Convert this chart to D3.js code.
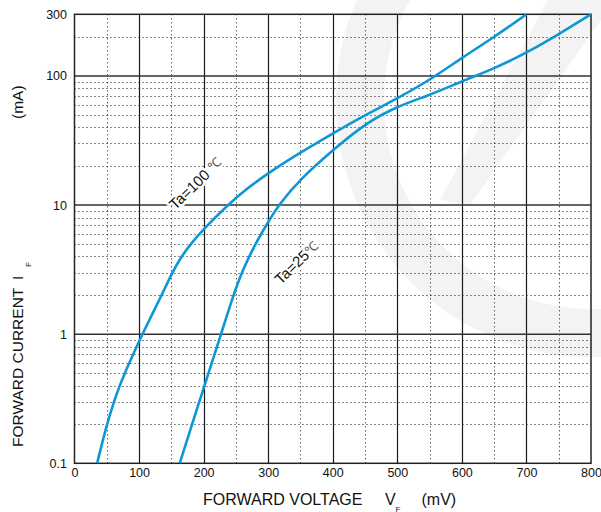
<!DOCTYPE html>
<html><head><meta charset="utf-8">
<script src="https://cdn.jsdelivr.net/npm/d3@7"></script>
<style>
html,body{margin:0;padding:0;background:#fff;}
svg{display:block;font-family:"Liberation Sans",Arial,sans-serif;}
</style></head><body>
<svg id="c" width="601" height="512"></svg>
<script>
// ---- data ----
const xTicks = [0, 100, 200, 300, 400, 500, 600, 700, 800];
const xMinor = [50, 150, 250, 350, 450, 550, 650, 750];
const yTicks = [0.1, 1, 10, 100, 300];
const yTickLabels = ["0.1", "1", "10", "100", "300"];
const yMajor = [1, 10, 100];
const yMinor = [0.2,0.3,0.4,0.5,0.6,0.7,0.8,0.9, 2,3,4,5,6,7,8,9, 20,30,40,50,60,70,80,90, 200];

const ta100V = [35, 50, 61, 70, 78, 85, 91, 105, 135, 150, 165, 180, 200, 236, 270, 300, 334, 400, 450, 500, 550, 600, 650, 700];
const ta100I = [0.1, 0.2, 0.3, 0.4, 0.5, 0.6, 0.7, 1, 2, 2.92, 3.95, 5, 6.5, 9.9, 13.8, 17.6, 22.9, 35.8, 49.7, 66.9, 92.7, 138, 200, 300];
const ta25V = [163, 195, 227, 246, 260, 280, 300, 316, 350, 400, 450, 500, 550, 600, 650, 700, 750, 800];
const ta25I = [0.1, 0.32, 1, 2, 3.1, 5, 7.4, 10, 16, 26.6, 42.8, 58.3, 70.9, 91, 114, 150.6, 210, 300];

// ---- setup ----
const svg = d3.select("#c");
const L = 74.5, R = 591, T = 14.3, B = 463.3;
const x = d3.scaleLinear().domain([0, 800]).range([L, R]);
const y = d3.scaleLog().domain([0.1, 300]).range([B, T]);
const snap = v => Math.round(v) + 0.5;

// watermark
const wm = svg.append("g").attr("fill", "#f3f3f3").attr("stroke", "none");
wm.append("path")
  .attr("transform", "translate(592,101)")
  .attr("d", d3.arc()({innerRadius: 208, outerRadius: 256, startAngle: -220 * Math.PI / 180, endAngle: -40 * Math.PI / 180}));
wm.append("path")
  .attr("d", "M548,0 L601,0 L601,20 L470,205 L440,200 Z");

// minor dotted grid
const grid = svg.append("g");
grid.selectAll(".vmin").data(xMinor).join("line")
  .attr("x1", d => snap(x(d))).attr("x2", d => snap(x(d))).attr("y1", T).attr("y2", B)
  .attr("stroke", "#111").attr("stroke-width", 1).attr("stroke-dasharray", "1,3");
grid.selectAll(".hmin").data(yMinor).join("line")
  .attr("y1", d => snap(y(d))).attr("y2", d => snap(y(d))).attr("x1", L).attr("x2", R)
  .attr("stroke", "#111").attr("stroke-width", 1).attr("stroke-dasharray", "1,3");
// major solid grid
grid.selectAll(".vmaj").data(xTicks.slice(1, -1)).join("line")
  .attr("x1", d => snap(x(d))).attr("x2", d => snap(x(d))).attr("y1", T).attr("y2", B)
  .attr("stroke", "#1a1a1a").attr("stroke-width", 1.2);
grid.selectAll(".hmaj").data(yMajor).join("line")
  .attr("y1", d => y(d)).attr("y2", d => y(d)).attr("x1", L).attr("x2", R)
  .attr("stroke", "#333").attr("stroke-width", 1.5);
// frame
svg.append("rect").attr("x", L).attr("y", T).attr("width", R - L).attr("height", B - T)
  .attr("fill", "none").attr("stroke", "#222").attr("stroke-width", 1.5);

// curves
const line = d3.line().x(d => x(d[0])).y(d => y(d[1])).curve(d3.curveBasis);
const series = [d3.zip(ta100V, ta100I), d3.zip(ta25V, ta25I)];
svg.append("defs").append("clipPath").attr("id", "clip")
  .append("rect").attr("x", L).attr("y", T).attr("width", R - L).attr("height", B - T);
svg.append("g").attr("clip-path", "url(#clip)")
  .selectAll("path").data(series).join("path")
  .attr("d", line).attr("fill", "none").attr("stroke", "#0e97d7").attr("stroke-width", 2.6);

// axes
const xa = svg.append("g").attr("transform", `translate(0,${B})`)
  .call(d3.axisBottom(x).tickValues(xTicks).tickSize(0).tickPadding(4.5).tickFormat(d3.format("d")));
xa.select(".domain").remove();
xa.selectAll("text").attr("font-size", 12.5).attr("font-family", "Liberation Sans, Arial, sans-serif").attr("fill", "#111");

const ya = svg.append("g").attr("transform", `translate(${L},0)`)
  .call(d3.axisLeft(y).tickValues(yTicks).tickSize(0).tickPadding(7.5).tickFormat((d, i) => yTickLabels[i]));
ya.select(".domain").remove();
ya.selectAll("text").attr("font-size", 12.5).attr("font-family", "Liberation Sans, Arial, sans-serif").attr("fill", "#111");

// axis titles
const xt = svg.append("text").attr("y", 505).attr("font-size", 16).attr("fill", "#111");
xt.append("tspan").attr("x", 203).text("FORWARD VOLTAGE");
xt.append("tspan").attr("x", 385).text("V");
xt.append("tspan").attr("x", 395.5).attr("y", 511.5).attr("font-size", 8).text("F");
xt.append("tspan").attr("x", 421.5).attr("y", 505).text("(mV)");

const yt = svg.append("text").attr("transform", "rotate(-90)").attr("y", 23).attr("font-size", 15.5).attr("fill", "#111");
yt.append("tspan").attr("x", -447).text("FORWARD CURRENT");
yt.append("tspan").attr("x", -280).text("I");
yt.append("tspan").attr("x", -267).attr("y", 30.5).attr("font-size", 8).text("F");
yt.append("tspan").attr("x", -119).attr("y", 23).text("(mA)");

// curve labels
function label(cx, cy, main, unit) {
  const t = svg.append("text").attr("transform", `translate(${cx},${cy}) rotate(-44)`)
    .attr("text-anchor", "middle").attr("dominant-baseline", "central")
    .attr("font-size", 15).attr("fill", "#111")
    .attr("stroke", "#fff").attr("stroke-width", 5).attr("paint-order", "stroke").attr("stroke-linejoin", "round");
  t.append("tspan").text(main);
  t.append("tspan").attr("font-size", 13).attr("fill", "#555").text(unit);
}
label(195, 183, "Ta=100 ", "℃");
label(296, 262, "Ta=25", "℃");
</script>
</body></html>
